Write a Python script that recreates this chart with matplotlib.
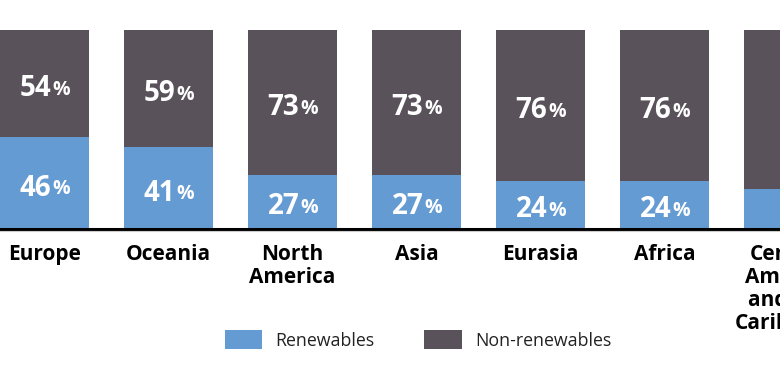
import matplotlib
matplotlib.use("Agg")
import matplotlib.pyplot as plt
from matplotlib.patches import Patch

plt.rcParams['font.family'] = ['Open Sans', 'DejaVu Sans']

categories = ["Europe", "Oceania", "North\nAmerica", "Asia", "Eurasia", "Africa",
              "Central\nAmerica\nand the\nCaribbean"]
renewables = [46, 41, 27, 27, 24, 24, 20]
non_renewables = [54, 59, 73, 73, 76, 76, 80]

blue = "#659bd3"
dark = "#5a525a"

W, H = 780, 371
fig = plt.figure(figsize=(W / 100, H / 100), dpi=100)
ax = fig.add_axes([0, (H - 229) / H, 1, 199 / H])

bw = 89 / 124
x = list(range(len(categories)))
ax.bar(x, renewables, width=bw, color=blue, linewidth=0)
ax.bar(x, non_renewables, width=bw, bottom=renewables, color=dark, linewidth=0)

ax.set_xlim(-bw / 2, -bw / 2 + W / 124)
ax.set_ylim(0, 100)
for s in ax.spines.values():
    s.set_visible(False)
ax.set_xticks([])
ax.set_yticks([])
ax.axhline(0, color="black", linewidth=2.2, clip_on=False)
ax.axhline(-1.2, color="#cccccc", linewidth=0.8, clip_on=False)


def pct(xi, y, v):
    ax.annotate(f"{v}", (xi, y), xytext=(5.0, -3.5), textcoords="offset points",
                ha="right", va="center", color="white", fontsize=20,
                fontweight="bold")
    ax.annotate("%", (xi, y), xytext=(5.5, -4.5), textcoords="offset points",
                ha="left", va="center", color="white", fontsize=14,
                fontweight="bold")


for xi, r, n in zip(x, renewables, non_renewables):
    pct(xi, r / 2, r)
    pct(xi, r + n / 2, n)

for xi, c in zip(x, categories):
    ax.annotate(c, (xi, 0), xytext=(0, -10.5), textcoords="offset points",
                ha="center", va="top", fontsize=15, fontweight="bold",
                color="black", linespacing=1.13, annotation_clip=False)

handles = [Patch(facecolor=blue, label="Renewables"),
           Patch(facecolor=dark, label="Non-renewables")]
fig.legend(handles=handles, loc="center", bbox_to_anchor=(418 / W, 1 - 340 / H),
           ncol=2, frameon=False, fontsize=12.8, handlelength=2.13,
           handleheight=1.25, handletextpad=0.73, columnspacing=2.8,
           labelcolor="#222222")

fig.savefig("out.png", dpi=100)
